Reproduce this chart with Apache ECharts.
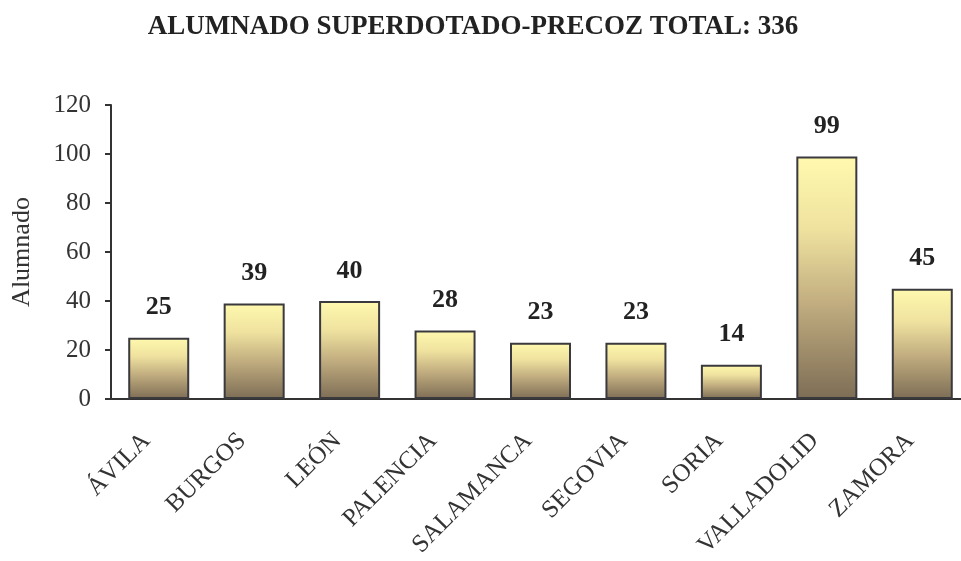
<!DOCTYPE html>
<html>
<head>
<meta charset="utf-8">
<script src="https://cdn.jsdelivr.net/npm/echarts@6/dist/echarts.min.js"></script>
<style>
  html, body { margin: 0; padding: 0; background: #fff; }
  #main { width: 961px; height: 561px; }
</style>
</head>
<body>
<div id="main"></div>
<script>
var provincias = ["ÁVILA", "BURGOS", "LEÓN", "PALENCIA", "SALAMANCA", "SEGOVIA", "SORIA", "VALLADOLID", "ZAMORA"];
var alumnos = [25, 39, 40, 28, 23, 23, 14, 99, 45];

var myChart = echarts.init(document.getElementById("main"));
var fuente = "'Liberation Serif', 'Times New Roman', serif";

myChart.setOption({
  animation: false,
  title: {
    text: "ALUMNADO SUPERDOTADO-PRECOZ TOTAL: 336",
    left: 468,
    textAlign: "center",
    top: 9,
    textStyle: { fontFamily: fuente, fontSize: 27, fontWeight: "bold", color: "#222" }
  },
  grid: { left: 111, right: -9, top: 105, bottom: 162, outerBoundsMode: "none" },
  xAxis: {
    type: "category",
    data: provincias,
    axisLine: { lineStyle: { color: "#333", width: 2 } },
    axisTick: { length: 8, lineStyle: { color: "#333", width: 2 } },
    axisLabel: {
      rotate: 45,
      margin: 26,
      padding: [0, 17, 0, 0],
      fontFamily: fuente,
      fontSize: 25,
      color: "#333"
    }
  },
  yAxis: {
    type: "value",
    min: 0,
    max: 120,
    interval: 20,
    name: "Alumnado",
    nameLocation: "middle",
    nameGap: 76,
    nameTextStyle: { fontFamily: fuente, fontSize: 26, color: "#333" },
    axisLine: { show: true, lineStyle: { color: "#333", width: 2 } },
    axisTick: { show: true, length: 6, lineStyle: { color: "#333", width: 2 } },
    axisLabel: { margin: 20, fontFamily: fuente, fontSize: 25, color: "#333" },
    splitLine: { show: false }
  },
  series: [{
    type: "bar",
    data: alumnos,
    barWidth: 61,
    itemStyle: {
      color: new echarts.graphic.LinearGradient(0, 0, 0, 1, [
        { offset: 0, color: "#fff9ae" },
        { offset: 0.3, color: "#efe29f" },
        { offset: 0.6, color: "#c2ae80" },
        { offset: 1, color: "#7d6d55" }
      ]),
      borderColor: "#3a3a3e",
      borderWidth: 2
    },
    label: {
      show: true,
      position: "top",
      distance: 17,
      fontFamily: fuente,
      fontSize: 26,
      fontWeight: "bold",
      color: "#222"
    }
  }]
});
</script>
</body>
</html>
